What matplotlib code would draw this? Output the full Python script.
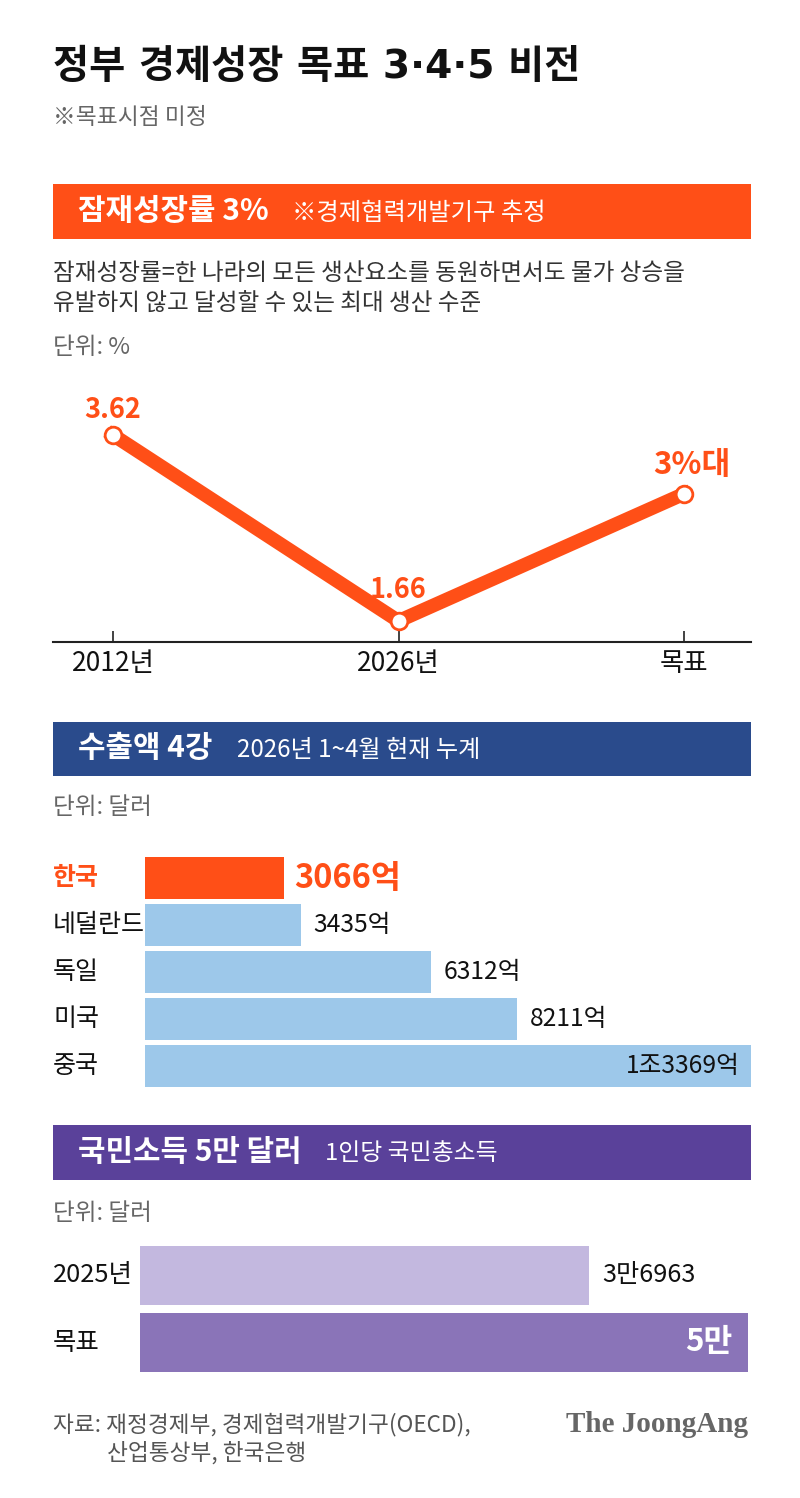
import matplotlib
matplotlib.use("Agg")
import matplotlib.pyplot as plt
from matplotlib.patches import Rectangle

plt.rcParams['font.family'] = ['Noto Sans CJK KR', 'DejaVu Sans']

# ---- data ----
growth_labels = ["2012년", "2026년", "목표"]
growth_values = [3.62, 1.66, 3.0]
growth_texts = ["3.62", "1.66", "3%대"]

export_countries = ["한국", "네덜란드", "독일", "미국", "중국"]
export_values = [3066, 3435, 6312, 8211, 13369]  # 억 달러
export_texts = ["3066억", "3435억", "6312억", "8211억", "1조3369억"]

income_labels = ["2025년", "목표"]
income_values = [36963, 50000]
income_texts = ["3만6963", "5만"]

ORANGE = "#FF4F17"
BLUE = "#2A4B8C"
LIGHTBLUE = "#9DC8EA"
PURPLE = "#5A419A"
LAV_LIGHT = "#C3B8DF"
LAV_DARK = "#8A74B8"

W, H = 800, 1498
fig = plt.figure(figsize=(W / 100, H / 100), dpi=100)
fig.patch.set_facecolor("white")


def ft(x, y, s, **kw):
    return fig.text(x / W, 1 - y / H, s, **kw)


def band(y0, y1, color):
    fig.add_artist(Rectangle((53 / W, 1 - y1 / H), (751 - 53) / W, (y1 - y0) / H,
                             transform=fig.transFigure, color=color, lw=0))


def axes_px(x0, y0, x1, y1):
    return fig.add_axes([x0 / W, 1 - y1 / H, (x1 - x0) / W, (y1 - y0) / H])


# ---- title ----
ft(53, 67, "정부 경제성장 목표 3·4·5 비전", fontsize=28.3, fontweight="bold", va="center",
   color="#111111", family=["DejaVu Sans", "Noto Sans CJK KR"])
ft(53, 117, "※목표시점 미정", fontsize=16.4, va="center", color="#666666")

# ---- section 1 ----
band(184, 239, ORANGE)
ft(78, 211, "잠재성장률 3%", fontsize=21.5, fontweight="bold", color="white", va="center")
ft(292, 213, "※경제협력개발기구 추정", fontsize=17.5, color="white", va="center")
ft(53, 273, "잠재성장률=한 나라의 모든 생산요소를 동원하면서도 물가 상승을", fontsize=17, color="#333333", va="center")
ft(53, 303, "유발하지 않고 달성할 수 있는 최대 생산 수준", fontsize=17, color="#333333", va="center")
ft(53, 348, "단위: %", fontsize=17, color="#666666", va="center")

ax1 = axes_px(53, 380, 751, 642)
xs = list(range(len(growth_values)))
px_per_unit = (621 - 435) / (3.62 - 1.66)
ax1.set_ylim(1.66 - (642 - 621) / px_per_unit, 3.62 + (435 - 380) / px_per_unit)
ax1.set_xlim(-(113 - 53) / 285.5, 2 + (751 - 684) / 285.5)
ax1.plot(xs, growth_values, color=ORANGE, lw=10, solid_joinstyle="miter",
         marker="o", ms=12, mfc="white", mec=ORANGE, mew=2, clip_on=False, zorder=3)
for sp in ["top", "left", "right"]:
    ax1.spines[sp].set_visible(False)
ax1.spines["bottom"].set_linewidth(1.5)
ax1.spines["bottom"].set_color("#222222")
ax1.set_yticks([])
ax1.set_xticks(xs)
ax1.set_xticklabels(growth_labels, fontsize=19, color="#111111")
ax1.tick_params(axis="x", direction="in", length=8, width=1.2, color="#222222", pad=6)
offs = [(0, 8), (0, 12), (6, 9)]
sizes = [19.5, 19.5, 22.5]
for x, v, t, o, s in zip(xs, growth_values, growth_texts, offs, sizes):
    ax1.annotate(t, (x, v), xytext=o, textcoords="offset points", ha="center", va="bottom",
                 fontsize=s, fontweight="bold", color=ORANGE)
ax1.patch.set_alpha(0)

# ---- section 2 ----
band(722, 776, BLUE)
ft(78, 748, "수출액 4강", fontsize=21.5, fontweight="bold", color="white", va="center")
ft(237, 750, "2026년 1~4월 현재 누계", fontsize=17.4, color="white", va="center")
ft(53, 808, "단위: 달러", fontsize=17, color="#666666", va="center")

ax2 = axes_px(145, 854.5, 751, 1090)
ys = list(range(len(export_values)))
colors2 = [ORANGE] + [LIGHTBLUE] * (len(export_values) - 1)
ax2.barh(ys, export_values, height=0.89, color=colors2, lw=0)
ax2.set_xlim(0, max(export_values))
ax2.set_ylim(len(export_values) - 0.5, -0.5)
ax2.axis("off")
tr = ax2.get_yaxis_transform()
for i, (c, v, t) in enumerate(zip(export_countries, export_values, export_texts)):
    if i == 0:
        ax2.text(-92 / 606, i, c, transform=tr, fontsize=18, fontweight="bold", color=ORANGE,
                 va="center", ha="left")
        ax2.annotate(t, (v, i), xytext=(7, 0), textcoords="offset points", fontsize=23.5,
                     fontweight="bold", color=ORANGE, va="center", ha="left")
    else:
        ax2.text(-92 / 606, i, c, transform=tr, fontsize=18, color="#111111",
                 va="center", ha="left")
        if v == max(export_values):
            ax2.annotate(t, (v, i), xytext=(-8, 0), textcoords="offset points", fontsize=17.8,
                         color="#111111", va="center", ha="right")
        else:
            ax2.annotate(t, (v, i), xytext=(9, 0), textcoords="offset points", fontsize=17.8,
                         color="#111111", va="center", ha="left")

# ---- section 3 ----
band(1125, 1180, PURPLE)
ft(78, 1152, "국민소득 5만 달러", fontsize=21.5, fontweight="bold", color="white", va="center")
ft(325, 1154, "1인당 국민총소득", fontsize=17.2, color="white", va="center")
ft(53, 1213, "단위: 달러", fontsize=17, color="#666666", va="center")

ax3 = axes_px(140, 1242, 748, 1376)
ys3 = list(range(len(income_values)))
ax3.barh(ys3, income_values, height=0.88, color=[LAV_LIGHT, LAV_DARK], lw=0)
ax3.set_xlim(0, max(income_values))
ax3.set_ylim(len(income_values) - 0.5, -0.5)
ax3.axis("off")
tr3 = ax3.get_yaxis_transform()
for i, (c, v, t) in enumerate(zip(income_labels, income_values, income_texts)):
    ax3.text(-87 / 608, i, c, transform=tr3, fontsize=18.3, color="#111111", va="center", ha="left")
    if v == max(income_values):
        ax3.annotate(t, (v, i), xytext=(-11, 0), textcoords="offset points", fontsize=22.5,
                     fontweight="bold", color="white", va="center", ha="right")
    else:
        ax3.annotate(t, (v, i), xytext=(9, 0), textcoords="offset points", fontsize=18.2,
                     color="#111111", va="center", ha="left")

# ---- footer ----
ft(53, 1425, "자료: 재정경제부, 경제협력개발기구(OECD),", fontsize=16.3, color="#555555", va="center")
ft(107, 1453, "산업통상부, 한국은행", fontsize=16.3, color="#555555", va="center")
ft(748, 1424, "The JoongAng", fontsize=21, fontweight="bold", color="#666666", va="center",
   ha="right", family="Liberation Serif")

fig.savefig("out.png", dpi=100)
